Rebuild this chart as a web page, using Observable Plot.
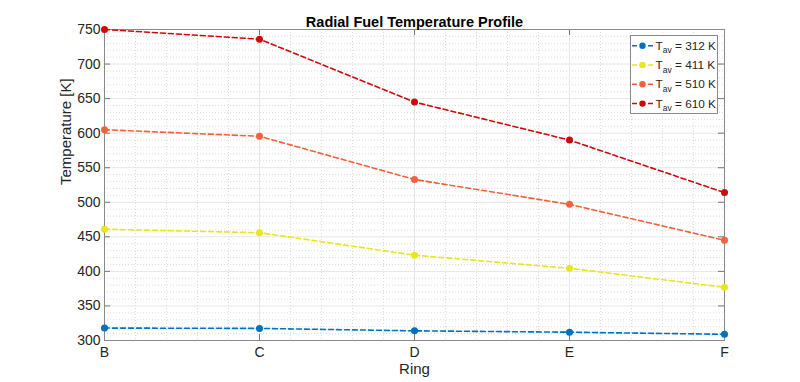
<!DOCTYPE html>
<html>
<head>
<meta charset="utf-8">
<script src="https://cdn.jsdelivr.net/npm/d3@7"></script>
<script src="https://cdn.jsdelivr.net/npm/@observablehq/plot@0.6"></script>
<style>
  html, body { margin: 0; padding: 0; background: #fff; }
  #chart svg { display: block; }
</style>
</head>
<body>
<div id="chart"></div>
<script>
// ---- data ----
const rings = ["B", "C", "D", "E", "F"];
const tAvg = [312, 411, 510, 610];
const t312 = [318, 317.5, 314, 312, 309];
const t411 = [461, 456, 423.5, 404.5, 377];
const t510 = [605, 595.5, 533, 497, 445];
const t610 = [750, 736, 645, 590, 514];
const seriesColors = ["#0072bd", "#e8e620", "#f4603a", "#cc0a0a"];
const yMajor = [300, 350, 400, 450, 500, 550, 600, 650, 700, 750];

const seriesValues = [t312, t411, t510, t610];
const seriesNames = tAvg.map(t => `T_av = ${t} K`);
const data = seriesValues.flatMap((vals, s) =>
  vals.map((v, i) => ({ i, ring: rings[i], T: v, series: seriesNames[s] })));

const xIdx = rings.map((_, i) => i);
const xMinor = d3.range(0, rings.length - 1 + 1e-9, 0.2).filter(v => Math.abs(v - Math.round(v)) > 1e-6);
const yMinor = d3.range(300, 751, 10).filter(v => v % 50 !== 0);

const W = 800, H = 382, mL = 104, mR = 76, mT = 29, mB = 42;
const fw = W - mL - mR, fh = H - mT - mB, tick = 6;
const ink = "#262626";

const plot = Plot.plot({
  width: W, height: H,
  marginLeft: mL, marginRight: mR, marginTop: mT, marginBottom: mB,
  style: { fontFamily: "'Liberation Sans', Arial, Helvetica, sans-serif", fontSize: "14px", color: ink, background: "#fff" },
  x: { domain: [0, rings.length - 1] },
  y: { domain: [300, 750] },
  color: { domain: seriesNames, range: seriesColors },
  marks: [
    Plot.gridY(yMinor, { stroke: "#dcdcdc", strokeOpacity: 1, strokeDasharray: "1,2" }),
    Plot.gridX(xMinor, { stroke: "#dcdcdc", strokeOpacity: 1, strokeDasharray: "1,2" }),
    Plot.gridY(yMajor, { stroke: "#e6e6e6", strokeOpacity: 1 }),
    Plot.gridX(xIdx, { stroke: "#e6e6e6", strokeOpacity: 1 }),
    // ticks (inward, all four sides)
    Plot.tickY(yMajor, { y: d => d, insetRight: fw - tick, stroke: "#777" }),
    Plot.tickY(yMajor, { y: d => d, insetLeft: fw - tick, stroke: "#777" }),
    Plot.tickX(xIdx, { x: d => d, insetTop: fh - tick, stroke: "#777" }),
    Plot.tickX(xIdx, { x: d => d, insetBottom: fh - tick, stroke: "#777" }),
    Plot.frame({ stroke: "#8a8a8a" }),
    Plot.axisY(yMajor, { tickSize: 0, tickPadding: 4, label: null, fontSize: 14, fill: ink }),
    Plot.axisX(xIdx, { tickSize: 0, tickPadding: 7, tickFormat: i => rings[i], label: null, fontSize: 14, fill: ink }),
    Plot.line(data, { x: "i", y: "T", z: "series", stroke: "series", strokeWidth: 1.6, strokeDasharray: "5,3" }),
    Plot.dot(data, { x: "i", y: "T", fill: "series", r: 3.5 }),
    Plot.text(["Radial Fuel Temperature Profile"], { frameAnchor: "top", dy: -13, fontWeight: "bold", fontSize: 14.5, fill: "#000" }),
    Plot.text(["Temperature [K]"], { frameAnchor: "left", dx: -38, rotate: -90, fontSize: 15, fill: ink }),
    Plot.text(["Ring"], { frameAnchor: "bottom", dy: 33, fontSize: 15, fill: ink })
  ]
});
document.getElementById("chart").appendChild(plot);

// ---- legend (inside the axes, top-right) ----
const svg = d3.select(plot);
const lx = 630, ly = 35, lw = 87, lh = 78, rowH = 19.3, row0 = 10.7;
const g = svg.append("g").attr("font-family", "'Liberation Sans', Arial, Helvetica, sans-serif")
  .attr("fill", ink).attr("text-anchor", "start");
g.append("rect").attr("x", lx + 0.5).attr("y", ly + 0.5).attr("width", lw).attr("height", lh)
  .attr("fill", "#fff").attr("stroke", "#8a8a8a");
tAvg.forEach((t, k) => {
  const cy = ly + row0 + k * rowH;
  g.append("line").attr("x1", lx + 2).attr("x2", lx + 23).attr("y1", cy).attr("y2", cy)
    .attr("stroke", seriesColors[k]).attr("stroke-width", 1.5).attr("stroke-dasharray", "5,3");
  g.append("circle").attr("cx", lx + 12.5).attr("cy", cy).attr("r", 3.2).attr("fill", seriesColors[k]);
  const tx = g.append("text").attr("x", lx + 25.5).attr("y", cy + 4).attr("font-size", 11.8)
    .attr("text-anchor", "start");
  tx.append("tspan").text("T");
  tx.append("tspan").attr("font-size", 8.5).attr("dy", 3.5).text("av");
  tx.append("tspan").attr("dy", -3.5).text(` = ${t} K`);
});
</script>
</body>
</html>
